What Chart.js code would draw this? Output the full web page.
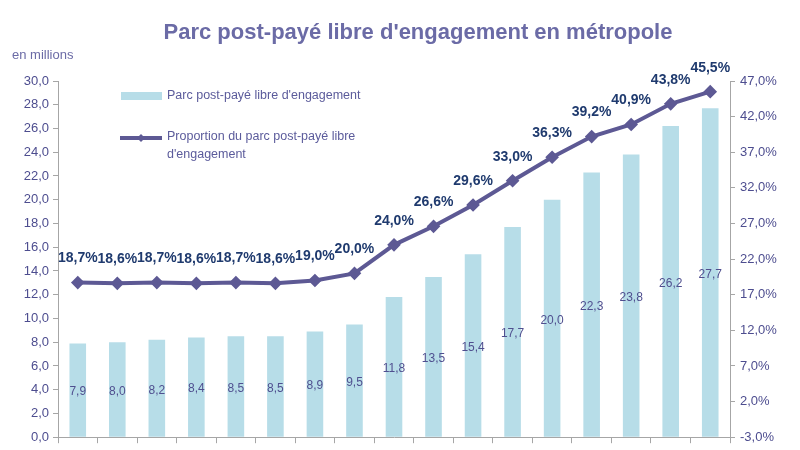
<!DOCTYPE html>
<html>
<head>
<meta charset="utf-8">
<script src="https://cdn.jsdelivr.net/npm/chart.js@4/dist/chart.umd.min.js"></script>
<style>
  html, body { margin: 0; padding: 0; background: #fff; }
  #wrap { width: 800px; height: 450px; }
</style>
</head>
<body>
<div id="wrap"><canvas id="chart" width="800" height="450"></canvas></div>
<script>
// values
const periods = ['p1','p2','p3','p4','p5','p6','p7','p8','p9','p10','p11','p12','p13','p14','p15','p16','p17']
const parcMillions = [7.9, 8.0, 8.2, 8.4, 8.5, 8.5, 8.9, 9.5, 11.8, 13.5, 15.4, 17.7, 20.0, 22.3, 23.8, 26.2, 27.7]
const proportion = [18.7, 18.6, 18.7, 18.6, 18.7, 18.6, 19.0, 20.0, 24.0, 26.6, 29.6, 33.0, 36.3, 39.2, 40.9, 43.8, 45.5]

const titleText = "Parc post-payé libre d'engagement en métropole"
const unitText = 'en millions'
const barLabel = "Parc post-payé libre d'engagement"
const lineLabel = ["Proportion du parc post-payé libre", "d'engagement"]

const barColor = '#b7dde8'
const lineColor = '#5d5994'
const tickColor = '#4d4d8f'
const axisColor = '#a6a6a6'

const fr = v => v.toFixed(1).replace('.', ',')

const decorations = {
    id: 'decorations',
    afterDatasetsDraw(chart) {
        const ctx = chart.ctx
        ctx.save()
        // title + unit
        ctx.fillStyle = '#6b6ba6'
        ctx.font = 'bold 22px "Liberation Sans", Arial, sans-serif'
        ctx.textAlign = 'center'
        ctx.textBaseline = 'middle'
        ctx.fillText(titleText, 418, 33)
        ctx.font = '13px "Liberation Sans", Arial, sans-serif'
        ctx.textAlign = 'left'
        ctx.fillText(unitText, 12, 55)

        // bar value labels, middle of each bar
        ctx.font = '12px "Liberation Sans", Arial, sans-serif'
        ctx.fillStyle = '#4f4f8f'
        ctx.textAlign = 'center'
        chart.getDatasetMeta(0).data.forEach((bar, i) => {
            ctx.fillText(fr(parcMillions[i]), bar.x, (bar.y + bar.base) / 2 + 2)
        })

        // percent labels above the points
        ctx.font = 'bold 14px "Liberation Sans", Arial, sans-serif'
        ctx.fillStyle = '#1f3a6e'
        chart.getDatasetMeta(1).data.forEach((pt, i) => {
            ctx.fillText(fr(proportion[i]) + '%', pt.x, pt.y - 24)
        })

        // legend inside the plot
        ctx.fillStyle = barColor
        ctx.fillRect(121, 92, 41, 8)
        ctx.strokeStyle = lineColor
        ctx.lineWidth = 4
        ctx.beginPath()
        ctx.moveTo(120, 138)
        ctx.lineTo(162, 138)
        ctx.stroke()
        ctx.fillStyle = lineColor
        ctx.beginPath()
        ctx.moveTo(141, 134); ctx.lineTo(145, 138); ctx.lineTo(141, 142); ctx.lineTo(137, 138)
        ctx.closePath()
        ctx.fill()
        ctx.fillStyle = '#5b5b9b'
        ctx.font = '12.5px "Liberation Sans", Arial, sans-serif'
        ctx.textAlign = 'left'
        ctx.fillText(barLabel, 167, 96)
        ctx.fillText(lineLabel[0], 167, 137)
        ctx.fillText(lineLabel[1], 167, 155)
        ctx.restore()
    }
}

const ctx = document.getElementById('chart').getContext('2d')
const myChart = new Chart(ctx, {
    data: {
        labels: periods,
        datasets: [{
            type: 'bar',
            data: parcMillions,
            backgroundColor: barColor,
            yAxisID: 'y',
            barPercentage: 0.42,
            categoryPercentage: 1,
            order: 2
        }, {
            type: 'line',
            data: proportion,
            borderColor: lineColor,
            backgroundColor: lineColor,
            borderWidth: 4,
            pointStyle: 'rectRot',
            pointRadius: 4,
            tension: 0,
            yAxisID: 'y1',
            order: 1
        }]
    },
    options: {
        responsive: false,
        animation: false,
        layout: { padding: { top: 81, left: 0, right: 0, bottom: 0 } },
        plugins: {
            legend: { display: false },
            tooltip: { enabled: false }
        },
        scales: {
            x: {
                grid: { display: true, drawOnChartArea: false, tickLength: 6, color: axisColor, offset: true },
                border: { color: axisColor },
                ticks: { display: false },
                afterFit: s => { s.height = 7 }
            },
            y: {
                position: 'left',
                min: 0,
                max: 30,
                ticks: {
                    stepSize: 2,
                    color: tickColor,
                    font: { family: '"Liberation Sans", Arial, sans-serif', size: 13 },
                    padding: 4,
                    callback: v => fr(v)
                },
                grid: { drawOnChartArea: false, tickLength: 5, color: axisColor },
                border: { color: axisColor },
                afterFit: s => { s.width = 58 }
            },
            y1: {
                position: 'right',
                min: -3,
                max: 47,
                ticks: {
                    stepSize: 5,
                    color: tickColor,
                    font: { family: '"Liberation Sans", Arial, sans-serif', size: 13 },
                    padding: 5,
                    callback: v => fr(v) + '%'
                },
                grid: { drawOnChartArea: false, tickLength: 5, color: axisColor },
                border: { color: axisColor },
                afterFit: s => { s.width = 70 }
            }
        }
    },
    plugins: [decorations]
})
</script>
</body>
</html>
